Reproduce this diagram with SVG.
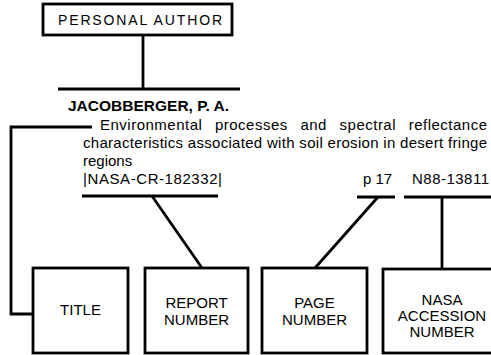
<svg xmlns="http://www.w3.org/2000/svg" width="491" height="355" viewBox="0 0 491 355">
<style>
.box{fill:#fff;stroke:#000;stroke-width:2.8}
.ln{fill:none;stroke:#000;stroke-width:2.8}
text{font-family:"Liberation Sans",Arial,sans-serif;fill:#000}
.bl{font-size:15px;text-anchor:middle}
.t{font-size:15px}
</style>
<rect width="491" height="355" fill="#fff"/>
<g id="connectors">
<line class="ln" x1="143" y1="35" x2="143" y2="89"/>
<line class="ln" x1="58" y1="89" x2="240" y2="89"/>
<path class="ln" d="M92 127 H11 V314 H33"/>
<line class="ln" x1="82" y1="196" x2="218" y2="196"/>
<line class="ln" x1="152" y1="196" x2="202" y2="268"/>
<line class="ln" x1="357" y1="197" x2="395" y2="197"/>
<line class="ln" x1="378" y1="197" x2="315" y2="268"/>
<line class="ln" x1="404" y1="197" x2="491" y2="197"/>
<line class="ln" x1="442" y1="197" x2="442" y2="269"/>
</g>
<g id="personal-author">
<rect class="box" x="43" y="4" width="189" height="31"/>
<text x="140" y="25" class="bl" style="font-size:14px" textLength="164" lengthAdjust="spacing">PERSONAL AUTHOR</text>
</g>
<g id="citation">
<text x="68" y="111" style="font-size:15.5px;font-weight:bold">JACOBBERGER, P. A.</text>
<text x="100" y="130" class="t" style="word-spacing:8px" textLength="387" lengthAdjust="spacing">Environmental processes and spectral reflectance</text>
<text x="83" y="148" class="t" textLength="404" lengthAdjust="spacing">characteristics associated with soil erosion in desert fringe</text>
<text x="83" y="166" class="t">regions</text>
<text x="83" y="184" class="t" textLength="139" lengthAdjust="spacing">|NASA-CR-182332|</text>
<text x="363" y="184" class="t">p 17</text>
<text x="412" y="184" class="t" textLength="77" lengthAdjust="spacing">N88-13811</text>
</g>
<g id="title">
<rect class="box" x="33" y="268" width="95" height="85"/>
<text x="80.5" y="315" class="bl">TITLE</text>
</g>
<g id="report-number">
<rect class="box" x="145" y="268" width="103" height="85"/>
<text x="196.5" y="308" class="bl">REPORT</text>
<text x="196.5" y="325" class="bl">NUMBER</text>
</g>
<g id="page-number">
<rect class="box" x="262" y="268" width="105" height="85"/>
<text x="314.5" y="308" class="bl">PAGE</text>
<text x="314.5" y="325" class="bl">NUMBER</text>
</g>
<g id="nasa-accession-number">
<rect class="box" x="383" y="269" width="112" height="84"/>
<text x="442" y="305" class="bl">NASA</text>
<text x="442" y="321" class="bl">ACCESSION</text>
<text x="442" y="337" class="bl">NUMBER</text>
</g>
</svg>
